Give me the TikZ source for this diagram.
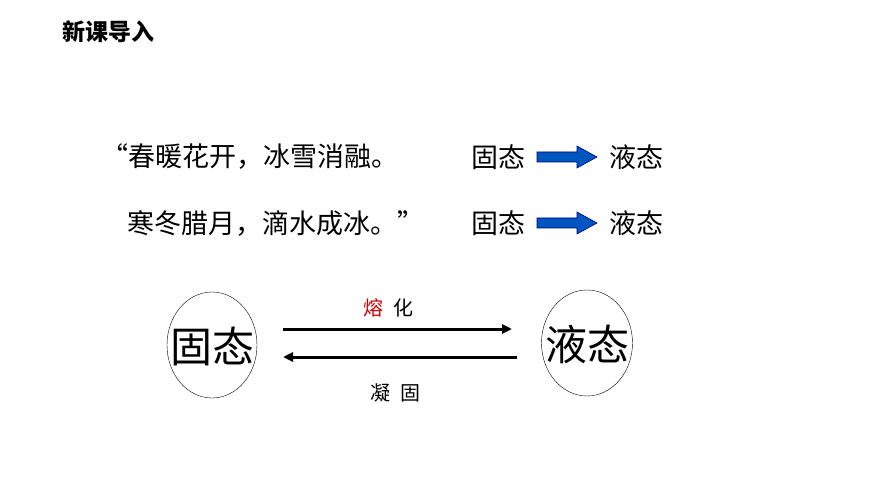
\documentclass[tikz,border=0pt]{standalone}
\usepackage{fontspec}
\newfontfamily\cjk{Noto Sans CJK SC}
\newfontfamily\cjkb{Noto Sans CJK SC Black}
\usetikzlibrary{arrows.meta,shapes.geometric}
\begin{document}
\begin{tikzpicture}[x=1pt,y=-1pt,
  txt/.style={font=\cjk\fontsize{27}{27}\selectfont,inner sep=0pt},
  blk/.style={draw=blue!50!black,fill=blue!55!cyan!75!black,line width=0.6pt},
  lbl/.style={font=\cjk\fontsize{20}{20}\selectfont,inner sep=0pt},
  ell/.style={inner sep=0pt,font=\cjk\fontsize{42}{42}\selectfont},
  conn/.style={line width=3pt,-{Triangle[length=10pt,width=9pt]}}]
\useasboundingbox (0,0) rectangle (870,489);
\node[anchor=west,inner sep=0pt,font=\cjkb\fontsize{23}{23}\selectfont] (t) at (62,32) {新课导入};
\node[txt,anchor=west] (l1) at (101,157) {“春暖花开，冰雪消融。};
\node[txt,anchor=west] (l2) at (127,223) {寒冬腊月，滴水成冰。”};
\node[txt,anchor=west] (s1) at (471,157) {固态};
\node[txt,anchor=west] (q1) at (609,157) {液态};
\node[txt,anchor=west] (s2) at (471,223) {固态};
\node[txt,anchor=west] (q2) at (609,223) {液态};
\foreach \y in {157,223}
  \filldraw[blk] (537,\y-5) -- (577,\y-5) -- (577,\y-11) -- (597,\y) -- (577,\y+11) -- (577,\y+5) -- (537,\y+5) -- cycle;
\node[ell] (g) at (212,346) {固态};
\node[ell] (y) at (587,344) {液态};
\draw (212,345) ellipse [x radius=45, y radius=53];
\draw (587,343) ellipse [x radius=45.5, y radius=53];
\coordinate (p1) at (283,329); \coordinate (p2) at (512,329);
\coordinate (p3) at (517,357); \coordinate (p4) at (283,357);
\draw[conn] (p1) -- (p2);
\draw[conn] (p3) -- (p4);
\node[lbl] (m) at (388,308) {\textcolor{red!80!black}{熔}\hspace{10pt}化};
\node[lbl] (n) at (395,393) {凝\hspace{10pt}固};
\end{tikzpicture}
\end{document}
